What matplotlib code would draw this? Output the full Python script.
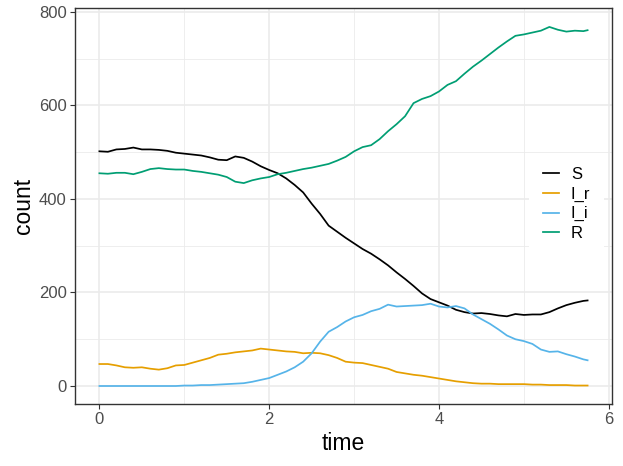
import matplotlib
matplotlib.use("Agg")
import matplotlib.pyplot as plt
from matplotlib.ticker import MultipleLocator

plt.rcParams['font.family'] = ['Liberation Sans', 'DejaVu Sans']

time = [0.0, 0.1, 0.2, 0.3, 0.4, 0.5, 0.6, 0.7, 0.8, 0.9,
        1.0, 1.1, 1.2, 1.3, 1.4, 1.5, 1.6, 1.7, 1.8, 1.9,
        2.0, 2.1, 2.2, 2.3, 2.4, 2.5, 2.6, 2.7, 2.8, 2.9,
        3.0, 3.1, 3.2, 3.3, 3.4, 3.5, 3.6, 3.7, 3.8, 3.9,
        4.0, 4.1, 4.2, 4.3, 4.4, 4.5, 4.6, 4.7, 4.8, 4.9,
        5.0, 5.1, 5.2, 5.3, 5.4, 5.5, 5.6, 5.7, 5.75]

S = [502, 501, 506, 507, 510, 506, 506, 505, 503, 499,
     497, 495, 493, 489, 484, 483, 491, 488, 480, 470,
     462, 455, 444, 430, 414, 390, 368, 343, 330, 317,
     305, 293, 283, 271, 258, 243, 229, 214, 198, 186,
     179, 172, 163, 158, 155, 156, 154, 151, 149, 154,
     152, 153, 153, 158, 166, 173, 178, 182, 183]

I_r = [47, 47, 44, 40, 39, 40, 37, 35, 38, 44,
       45, 50, 55, 60, 67, 69, 72, 74, 76, 80,
       78, 76, 74, 73, 70, 71, 70, 66, 60, 52,
       50, 49, 45, 41, 37, 30, 27, 24, 22, 19,
       16, 13, 10, 8, 6, 5, 5, 4, 4, 4,
       4, 3, 3, 2, 2, 2, 1, 1, 1]

I_i = [0, 0, 0, 0, 0, 0, 0, 0, 0, 0,
       1, 1, 2, 2, 3, 4, 5, 6, 9, 13,
       17, 24, 31, 40, 52, 70, 95, 116, 126, 138,
       147, 152, 160, 165, 174, 170, 171, 172, 173, 176,
       170, 168, 171, 166, 153, 143, 133, 121, 108, 100,
       96, 90, 78, 73, 74, 68, 63, 57, 55]

R = [455, 454, 456, 456, 453, 458, 464, 466, 464, 463,
     463, 460, 458, 455, 452, 447, 437, 434, 440, 444,
     447, 453, 456, 460, 464, 467, 471, 475, 482, 490,
     502, 511, 515, 528, 545, 560, 577, 605, 614, 620,
     630, 644, 652, 668, 683, 696, 710, 724, 737, 749,
     752, 756, 760, 768, 762, 758, 760, 759, 761]

series_names = ["S", "I_r", "I_i", "R"]
series_values = [S, I_r, I_i, R]
series_colors = ["#000000", "#E69F00", "#56B4E9", "#009E73"]

fig = plt.figure(figsize=(6.23, 4.66), dpi=100)
ax = fig.add_axes([75/623, 1-404/466, (612-75)/623, (404-8)/466])

for name, vals, col in zip(series_names, series_values, series_colors):
    ax.plot(time, vals, color=col, lw=1.25, label=name)

ax.set_xlim(-0.2875, 6.0375)
ax.set_ylim(-38.5, 808.5)
ax.xaxis.set_major_locator(MultipleLocator(2))
ax.xaxis.set_minor_locator(MultipleLocator(1))
ax.yaxis.set_major_locator(MultipleLocator(200))
ax.yaxis.set_minor_locator(MultipleLocator(100))
ax.grid(which="major", color="#EBEBEB", lw=1.2)
ax.grid(which="minor", color="#EBEBEB", lw=0.6)
ax.set_axisbelow(True)
for sp in ax.spines.values():
    sp.set_color("#333333")
    sp.set_linewidth(1.0)
ax.tick_params(which="major", length=3.5, width=0.8, color="#333333",
               labelsize=12, labelcolor="#4D4D4D", pad=2.5)
ax.tick_params(which="minor", length=0)
ax.set_xlabel("time", fontsize=16.5, labelpad=3)
ax.set_ylabel("count", fontsize=16.5, labelpad=3)

leg = ax.legend(loc="center left", bbox_to_anchor=(0.846, 0.505),
                frameon=True, fontsize=12, handlelength=1.0,
                handletextpad=0.7, labelspacing=0.28, borderpad=0.8,
                borderaxespad=0)
leg.get_frame().set_facecolor("white")
leg.get_frame().set_edgecolor("none")
leg.get_frame().set_alpha(1)
leg.get_frame().set_boxstyle("square", pad=0)

fig.savefig("out.png", dpi=100)
